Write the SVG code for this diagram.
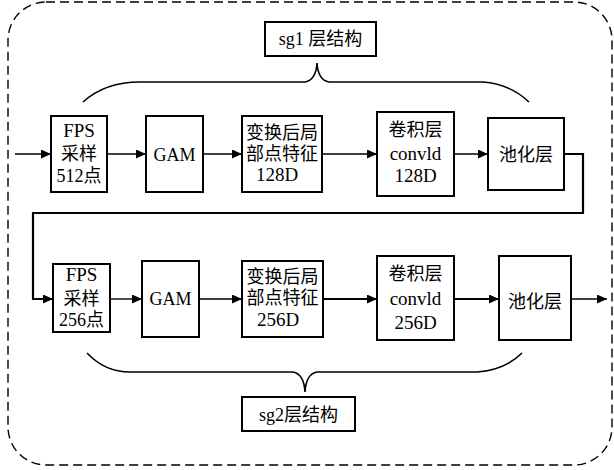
<svg xmlns="http://www.w3.org/2000/svg" width="614" height="470" viewBox="0 0 614 470">
<style>
.box{fill:#fff;stroke:#000;stroke-width:2}
.t{font-family:"Liberation Serif","Noto Sans CJK SC",serif;font-size:18px;fill:#000;text-anchor:middle}
.l{font-size:19px}
.c{fill:none;stroke:#000;stroke-width:1.4}
.ck{fill:none;stroke:#000;stroke-width:2.2}
.br{fill:none;stroke:#000;stroke-width:1.6}
</style>
<defs>
<marker id="ah" markerUnits="userSpaceOnUse" markerWidth="11" markerHeight="10" refX="10" refY="4.5" orient="auto">
<path d="M0,0 L10,4.5 L0,9 z" fill="#000"/>
</marker>
</defs>
<rect x="8" y="2" width="604" height="463" rx="38" ry="38" fill="none" stroke="#000" stroke-width="1.4" stroke-dasharray="9,5"/>

<g id="brace1"><path class="br" d="M83,102 Q105,82 140,82 L305,82 Q316,80 317,63 Q318,80 329,82 L483,82 Q510,84 529,102"/></g>
<g id="brace2"><path class="br" d="M87,353 Q105,372 130,372 L293,372 Q304,374 305,392 Q306,374 317,372 L477,372 Q505,370 522,353"/></g>

<g id="sg1"><rect class="box" x="265" y="22" width="111" height="34"/><text class="t" x="320.5" y="45">sg1 层结构</text></g>
<g id="sg2"><rect class="box" x="242" y="397" width="113" height="34"/><text class="t" x="298.5" y="421">sg2层结构</text></g>

<g id="connectors">
<line class="c" x1="15" y1="154" x2="51" y2="154" marker-end="url(#ah)"/>
<line class="c" x1="107" y1="154" x2="146" y2="154" marker-end="url(#ah)"/>
<line class="c" x1="203" y1="154" x2="242" y2="154" marker-end="url(#ah)"/>
<line class="c" x1="322" y1="154" x2="377" y2="154" marker-end="url(#ah)"/>
<line class="c" x1="454" y1="154" x2="488" y2="154" marker-end="url(#ah)"/>
<polyline class="ck" points="564,154 583,154 583,213 33,213 33,299 53,299" marker-end="url(#ah)"/>
<line class="c" x1="110" y1="299" x2="142" y2="299" marker-end="url(#ah)"/>
<line class="c" x1="199" y1="299" x2="242" y2="299" marker-end="url(#ah)"/>
<line class="ck" x1="323" y1="299" x2="377" y2="299" marker-end="url(#ah)"/>
<line class="ck" x1="454" y1="299" x2="499" y2="299" marker-end="url(#ah)"/>
<line class="c" x1="571" y1="299" x2="607" y2="299" marker-end="url(#ah)"/>
</g>

<g id="fps1"><rect class="box" x="51" y="116" width="56" height="76"/><text class="t l" x="79" y="137">FPS</text><text class="t" x="79" y="160">采样</text><text class="t" x="79" y="182">512点</text></g>
<g id="gam1"><rect class="box" x="146" y="116" width="57" height="76"/><text class="t" x="174.5" y="161">GAM</text></g>
<g id="feat1"><rect class="box" x="242" y="116" width="80" height="76"/><text class="t" x="282" y="139">变换后局</text><text class="t" x="282" y="160">部点特征</text><text class="t l" x="277" y="181">128D</text></g>
<g id="conv1"><rect class="box" x="377" y="112" width="77" height="84"/><text class="t" x="415.5" y="136">卷积层</text><text class="t l" x="415.5" y="160">convld</text><text class="t l" x="415.5" y="182">128D</text></g>
<g id="pool1"><rect class="box" x="488" y="118" width="76" height="72"/><text class="t" x="526" y="161">池化层</text></g>

<g id="fps2"><rect class="box" x="53" y="264" width="57" height="68"/><text class="t l" x="81.5" y="281">FPS</text><text class="t" x="81.5" y="305">采样</text><text class="t" x="81.5" y="326">256点</text></g>
<g id="gam2"><rect class="box" x="142" y="261" width="57" height="76"/><text class="t" x="170.5" y="305">GAM</text></g>
<g id="feat2"><rect class="box" x="242" y="261" width="81" height="76"/><text class="t" x="282.5" y="283">变换后局</text><text class="t" x="282.5" y="304">部点特征</text><text class="t l" x="278" y="326">256D</text></g>
<g id="conv2"><rect class="box" x="377" y="256" width="77" height="84"/><text class="t" x="415.5" y="280">卷积层</text><text class="t l" x="415.5" y="305">convld</text><text class="t l" x="415.5" y="329">256D</text></g>
<g id="pool2"><rect class="box" x="499" y="256" width="72" height="84"/><text class="t" x="535" y="308">池化层</text></g>
</svg>
